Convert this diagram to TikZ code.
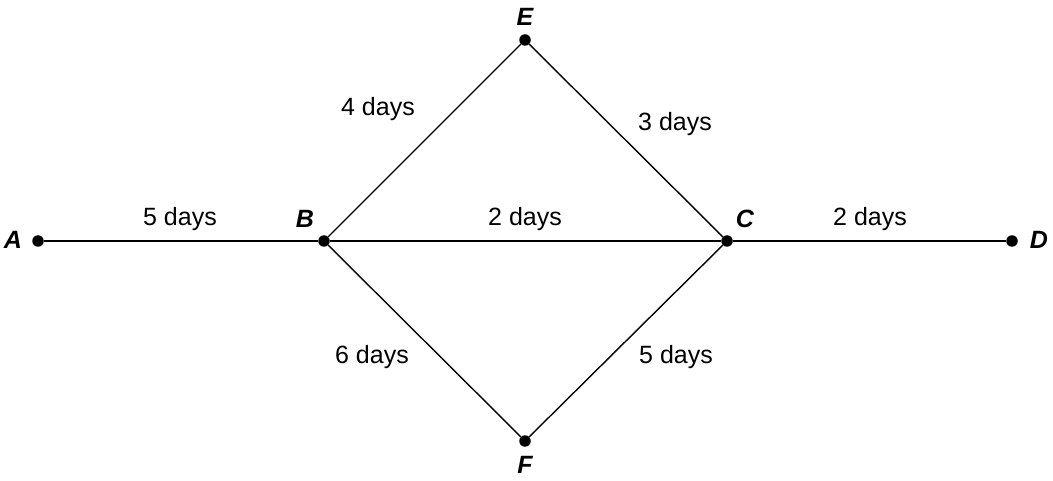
\documentclass[tikz,border=0pt]{standalone}
\usepackage{fontspec}
\setmainfont{Liberation Sans}
\begin{document}
\begin{tikzpicture}[x=1pt,y=-1pt,
  dot/.style={circle,fill=black,inner sep=0pt,minimum size=11.5pt},
  vlabel/.style={font=\fontsize{25}{30}\selectfont\bfseries\itshape},
  elabel/.style={font=\fontsize{25}{30}\selectfont},
  edge/.style={line width=1.4pt}]
\useasboundingbox (0,0) rectangle (1053,481);
\node[dot] (A) at (38,241) {};
\node[dot] (B) at (324,241) {};
\node[dot] (C) at (727,241) {};
\node[dot] (D) at (1012,241) {};
\node[dot] (E) at (525,40) {};
\node[dot] (F) at (525,441) {};
\node[vlabel] (lA) at (13,240) {A};
\node[vlabel] (lB) at (305,219) {B};
\node[vlabel] (lC) at (745,219) {C};
\node[vlabel] (lD) at (1039,240) {D};
\node[vlabel] (lE) at (525,17) {E};
\node[vlabel] (lF) at (525,465) {F};
\draw[edge] (A) -- (B);
\draw[edge] (B) -- (C);
\draw[edge] (C) -- (D);
\draw[edge] (B) -- (E);
\draw[edge] (E) -- (C);
\draw[edge] (B) -- (F);
\draw[edge] (F) -- (C);
\node[elabel] (t1) at (180,219) {5 days};
\node[elabel] (t2) at (525,219) {2 days};
\node[elabel] (t3) at (870,219) {2 days};
\node[elabel] (t4) at (378,109) {4 days};
\node[elabel] (t5) at (675,124) {3 days};
\node[elabel] (t6) at (372,357) {6 days};
\node[elabel] (t7) at (676,357) {5 days};
\end{tikzpicture}
\end{document}
